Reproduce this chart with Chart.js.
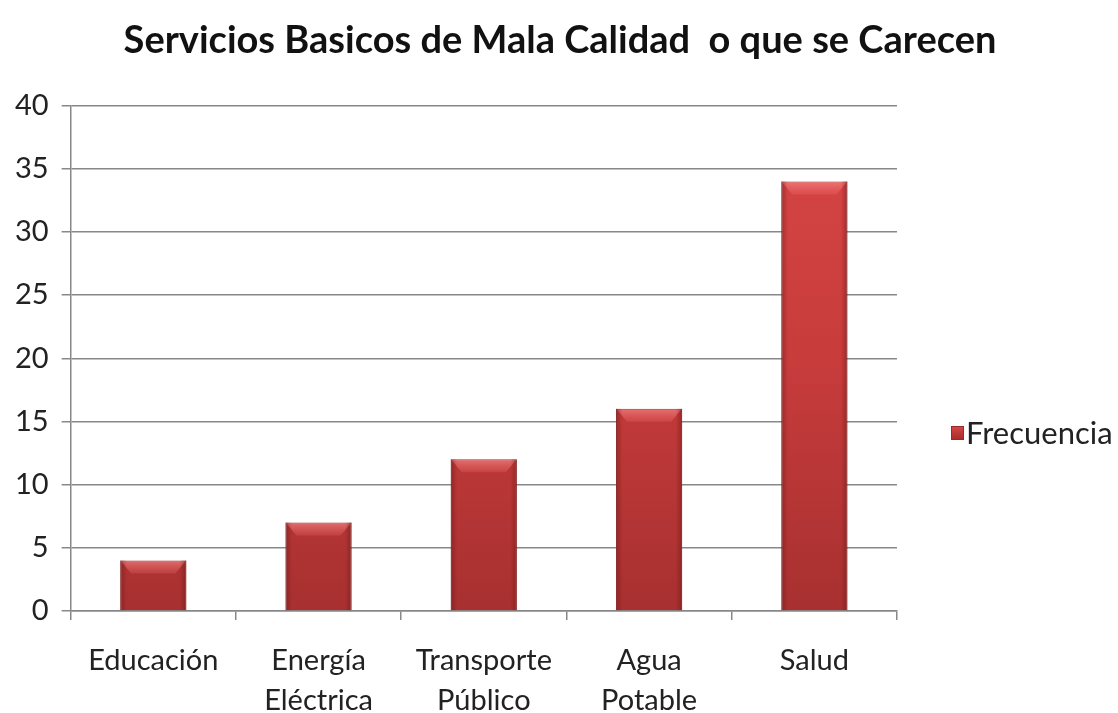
<!DOCTYPE html>
<html><head><meta charset="utf-8">
<script src="https://cdn.jsdelivr.net/npm/chart.js@4"></script>
<style>html,body{margin:0;padding:0;background:#fff}#wrap{width:1118px;height:713px}</style>
</head><body><div id="wrap"><canvas id="c" width="1118" height="713"></canvas></div>
<script>
const categories = [["Educación"], ["Energía","Eléctrica"], ["Transporte","Público"], ["Agua","Potable"], ["Salud"]];
const frecuencia = [4, 7, 12, 16, 34];
const seriesName = "Frecuencia";
const yTicks = [0,5,10,15,20,25,30,35,40];

const FONT = "Lato, 'Open Sans', sans-serif";

function barFill(ctx){
  const chart = ctx.chart; const a = chart.chartArea;
  if(!a) return '#c83c3c';
  const g = chart.ctx.createLinearGradient(0, a.top, 0, a.bottom);
  g.addColorStop(0, '#d84646');
  g.addColorStop(0.5, '#c83c3c');
  g.addColorStop(1, '#a83030');
  return g;
}

const bevelPlugin = {
  id:'bevel',
  afterDatasetsDraw(chart){
    const c = chart.ctx;
    const meta = chart.getDatasetMeta(0);
    meta.data.forEach(el=>{
      const w = el.width, x0 = el.x - w/2, x1 = el.x + w/2, y = el.y;
      const h = 13;
      c.save();
      c.beginPath();
      c.moveTo(x0+1, y+1); c.lineTo(x1-1, y+1); c.lineTo(x1-11, y+h); c.lineTo(x0+11, y+h); c.closePath();
      const g = c.createLinearGradient(0, y, 0, y+h);
      g.addColorStop(0, 'rgba(255,150,150,0.6)');
      g.addColorStop(1, 'rgba(255,120,120,0.2)');
      c.fillStyle = g; c.fill();
      const gs = c.createLinearGradient(x0, 0, x1, 0);
      gs.addColorStop(0, 'rgba(90,20,20,0.45)');
      gs.addColorStop(0.1, 'rgba(120,20,20,0)');
      gs.addColorStop(0.9, 'rgba(120,20,20,0)');
      gs.addColorStop(1, 'rgba(90,20,20,0.45)');
      c.fillStyle = gs;
      c.fillRect(x0, y, w, el.base - y);
      c.restore();
    });
  }
};

const legendPlugin = {
  id:'customLegend',
  afterDraw(chart){
    const c = chart.ctx;
    const x = 951, y = 433;
    c.save();
    const g = c.createLinearGradient(0, y-7, 0, y+7);
    g.addColorStop(0, '#d84646'); g.addColorStop(1, '#a52c2c');
    c.fillStyle = g;
    c.fillRect(x, y-7, 13, 14);
    c.strokeStyle = '#9a2a2a'; c.lineWidth = 1;
    c.strokeRect(x+0.5, y-6.5, 12, 13);
    c.fillStyle = '#222';
    c.font = "31px " + FONT;
    c.textBaseline = 'middle';
    c.fillText(chart.data.datasets[0].label, x+15, y+1);
    c.restore();
  }
};

new Chart(document.getElementById('c'), {
  type:'bar',
  data:{
    labels: categories,
    datasets:[{
      label: seriesName,
      data: frecuencia,
      backgroundColor: barFill,
      borderColor: '#a83232',
      borderWidth: 1,
      categoryPercentage: 1,
      barPercentage: 0.4
    }]
  },
  options:{
    responsive:false,
    animation:false,
    devicePixelRatio:1,
    layout:{padding:{left:2, right:0, top:10, bottom:0}},
    plugins:{
      legend:{display:false},
      tooltip:{enabled:false},
      title:{
        display:true,
        text:'Servicios Basicos de Mala Calidad  o que se Carecen',
        font:{family:FONT, size:38, weight:'bold'},
        color:'#111',
        padding:{top:8, bottom:42}
      }
    },
    scales:{
      x:{
        grid:{offset:true, drawOnChartArea:false, color:'#888', lineWidth:1.5, tickLength:9},
        border:{color:'#888', width:1.5},
        ticks:{font:{family:FONT, size:29, lineHeight:1.38}, color:'#222', padding:21, maxRotation:0, autoSkip:false},
        afterFit(axis){ axis.height -= 29; }
      },
      y:{
        min:0, max:40,
        afterBuildTicks(axis){ axis.ticks = yTicks.map(v=>({value:v})); },
        grid:{color:'#888', lineWidth:1.5, tickLength:9},
        border:{color:'#888', width:1.5},
        ticks:{font:{family:FONT, size:29}, color:'#222', padding:13}
      },
      r:{
        type:'linear', position:'right', display:true,
        grid:{display:false}, border:{display:false}, ticks:{display:false},
        afterFit(axis){ axis.width = 221; }
      }
    }
  },
  plugins:[bevelPlugin, legendPlugin]
});
</script></body></html>
